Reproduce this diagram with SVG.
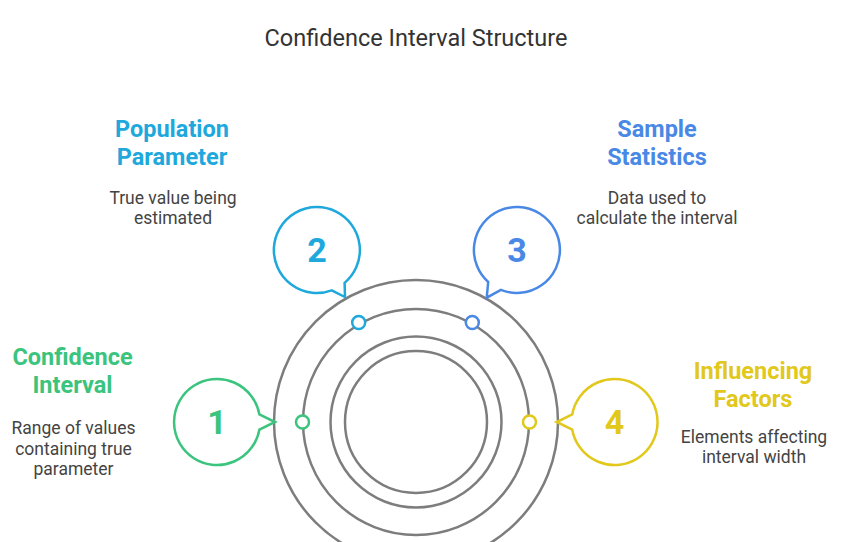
<svg xmlns="http://www.w3.org/2000/svg" width="849" height="542" viewBox="0 0 849 542">
<style>
.ring{fill:none;stroke:#7d7d7d;stroke-width:2.5}
.bub{fill:#fff;stroke-width:2.5;stroke-linejoin:miter}
.dot{fill:#fff;stroke-width:2.5}
.num{font-family:Roboto,"Liberation Sans",sans-serif;font-weight:700;font-size:34px;text-anchor:middle}
.head{font-family:Roboto,"Liberation Sans",sans-serif;font-weight:700;font-size:23.5px;text-anchor:middle}
.desc{font-family:Roboto,"Liberation Sans",sans-serif;font-size:17.5px;fill:#444;text-anchor:middle}
.title{font-family:Roboto,"Liberation Sans",sans-serif;font-size:23.5px;fill:#333;text-anchor:middle}
</style>
<rect width="849" height="542" fill="#fff"/>
<text class="title" x="416" y="46">Confidence Interval Structure</text>
<g id="rings">
<circle class="ring" cx="416" cy="422" r="142"/>
<circle class="ring" cx="416" cy="422" r="113"/>
<circle class="ring" cx="416" cy="422" r="85.5"/>
<circle class="ring" cx="416" cy="422" r="71"/>
</g>
<g id="node1">
<path class="bub" style="stroke:#3ac47d" d="M 259.4 429.5 A 43 43 0 1 1 259.4 414.5 L 275 422 Z"/>
<text class="num" style="fill:#3ac47d" x="217" y="434">1</text>
<circle class="dot" style="stroke:#3ac47d" cx="302.5" cy="422" r="6.5"/>
<text class="head" style="fill:#3ac47d"><tspan x="72.5" y="365">Confidence</tspan><tspan x="72.5" y="393">Interval</tspan></text>
<text class="desc"><tspan x="73.5" y="434">Range of values</tspan><tspan x="73.5" y="455">containing true</tspan><tspan x="73.5" y="475">parameter</tspan></text>
</g>
<g id="node2">
<path class="bub" style="stroke:#1ea8dc" d="M 344.6 282.9 A 43 43 0 1 0 331.7 290.4 L 345 297 Z"/>
<text class="num" style="fill:#1ea8dc" x="317" y="262">2</text>
<circle class="dot" style="stroke:#1ea8dc" cx="358.7" cy="322.5" r="6.5"/>
<text class="head" style="fill:#1ea8dc"><tspan x="172" y="137">Population</tspan><tspan x="172" y="165">Parameter</tspan></text>
<text class="desc"><tspan x="173" y="204">True value being</tspan><tspan x="173" y="224">estimated</tspan></text>
</g>
<g id="node3">
<path class="bub" style="stroke:#4a88e6" d="M 500.9 289.9 A 43 43 0 1 0 488.2 282 L 486.7 297.7 Z"/>
<text class="num" style="fill:#4a88e6" x="517" y="262">3</text>
<circle class="dot" style="stroke:#4a88e6" cx="472.3" cy="322.5" r="6.5"/>
<text class="head" style="fill:#4a88e6"><tspan x="657" y="137">Sample</tspan><tspan x="657" y="165">Statistics</tspan></text>
<text class="desc"><tspan x="657" y="204">Data used to</tspan><tspan x="657" y="224">calculate the interval</tspan></text>
</g>
<g id="node4">
<path class="bub" style="stroke:#e1c81b" d="M 572.2 414.5 A 43 43 0 1 1 572.2 429.5 L 556.7 422 Z"/>
<text class="num" style="fill:#e1c81b" x="614.5" y="434">4</text>
<circle class="dot" style="stroke:#e1c81b" cx="529.5" cy="422" r="6.5"/>
<text class="head" style="fill:#e1c81b"><tspan x="753" y="379">Influencing</tspan><tspan x="753" y="407">Factors</tspan></text>
<text class="desc"><tspan x="754" y="443">Elements affecting</tspan><tspan x="754" y="463">interval width</tspan></text>
</g>
<g id="connectors"></g>
</svg>
